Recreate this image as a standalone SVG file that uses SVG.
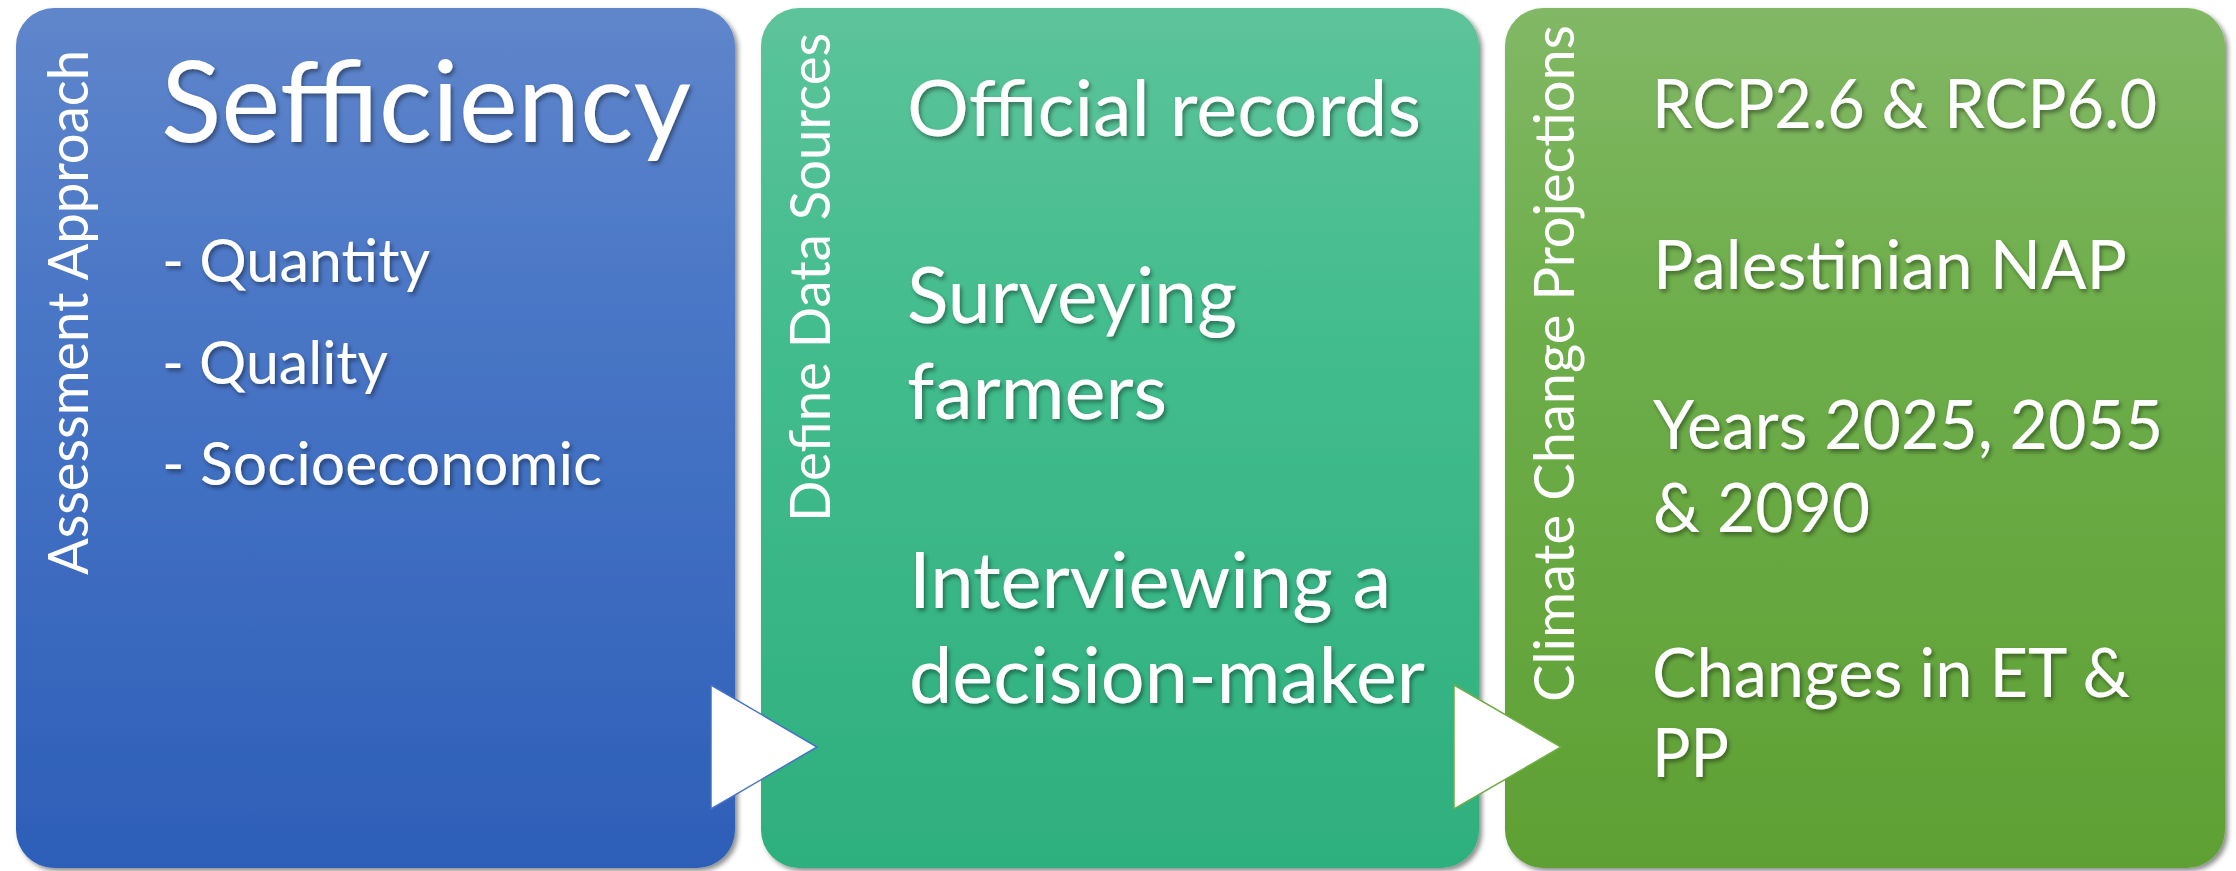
<svg xmlns="http://www.w3.org/2000/svg" width="2236" height="871" viewBox="0 0 2236 871">
  <defs>
    <linearGradient id="gBlue" x1="0" y1="0" x2="0" y2="1">
      <stop offset="0" stop-color="#5F86CB"/>
      <stop offset="0.35" stop-color="#4A76C6"/>
      <stop offset="1" stop-color="#2D5FB8"/>
    </linearGradient>
    <linearGradient id="gTeal" x1="0" y1="0" x2="0" y2="1">
      <stop offset="0" stop-color="#5DC39A"/>
      <stop offset="0.35" stop-color="#44BD8E"/>
      <stop offset="1" stop-color="#2EAF7E"/>
    </linearGradient>
    <linearGradient id="gGreen" x1="0" y1="0" x2="0" y2="1">
      <stop offset="0" stop-color="#82B865"/>
      <stop offset="0.35" stop-color="#6EAE4B"/>
      <stop offset="1" stop-color="#5FA034"/>
    </linearGradient>
    <filter id="panelShadow" x="-5%" y="-5%" width="110%" height="110%">
      <feDropShadow dx="3" dy="3" stdDeviation="2.5" flood-color="#000" flood-opacity="0.45"/>
    </filter>
    <filter id="textShadow" x="-5%" y="-20%" width="110%" height="140%">
      <feDropShadow dx="2" dy="3" stdDeviation="2" flood-color="#000" flood-opacity="0.4"/>
    </filter>
  </defs>
  <style>
    .panel { filter: url(#panelShadow); }
    .side { font-family: Lato, "Open Sans", "Liberation Sans", sans-serif; font-weight: 400; font-size: 56px; fill: #fff; }
    .body { font-family: Lato, "Liberation Sans", sans-serif; fill: #fff; filter: url(#textShadow); }
    .title { font-size: 112px; }
    .bullet { font-size: 60px; }
    .src { font-size: 77px; }
    .proj { font-size: 68px; }
    .arrow { fill: #fff; stroke-width: 1.5; }
  </style>
  <rect width="2236" height="871" fill="#fff"/>

  <!-- Stage 1: assessment approach -->
  <g id="node-assessment">
    <rect class="panel" x="16" y="8" width="719" height="860" rx="38" fill="url(#gBlue)"/>
    <text class="side" transform="translate(88,575) rotate(-90)" textLength="525" lengthAdjust="spacingAndGlyphs">Assessment Approach</text>
    <g class="body">
      <text class="title" x="161" y="142" textLength="530" lengthAdjust="spacingAndGlyphs">Sefficiency</text>
      <text class="bullet" x="162" y="282" textLength="268" lengthAdjust="spacingAndGlyphs">- Quantity</text>
      <text class="bullet" x="162" y="384" textLength="226" lengthAdjust="spacingAndGlyphs">- Quality</text>
      <text class="bullet" x="162" y="485" textLength="440" lengthAdjust="spacingAndGlyphs">- Socioeconomic</text>
    </g>
  </g>

  <!-- Stage 2: data sources -->
  <g id="node-sources">
    <rect class="panel" x="761" y="8" width="718" height="860" rx="38" fill="url(#gTeal)"/>
    <text class="side" transform="translate(830,522) rotate(-90)" textLength="489" lengthAdjust="spacingAndGlyphs">Define Data Sources</text>
    <g class="body">
      <text class="src" x="907" y="136" textLength="514" lengthAdjust="spacingAndGlyphs">Official records</text>
      <text class="src" x="907" y="323" textLength="330" lengthAdjust="spacingAndGlyphs">Surveying</text>
      <text class="src" x="907" y="419" textLength="260" lengthAdjust="spacingAndGlyphs">farmers</text>
      <text class="src" x="909" y="608" textLength="482" lengthAdjust="spacingAndGlyphs">Interviewing a</text>
      <text class="src" x="909" y="703" textLength="516" lengthAdjust="spacingAndGlyphs">decision-maker</text>
    </g>
  </g>

  <!-- Stage 3: climate change projections -->
  <g id="node-projections">
    <rect class="panel" x="1505" y="8" width="720" height="860" rx="38" fill="url(#gGreen)"/>
    <text class="side" transform="translate(1574,702) rotate(-90)" textLength="677" lengthAdjust="spacingAndGlyphs">Climate Change Projections</text>
    <g class="body">
      <text class="proj" x="1652" y="128" textLength="505" lengthAdjust="spacingAndGlyphs">RCP2.6 &amp; RCP6.0</text>
      <text class="proj" x="1653" y="289" textLength="474" lengthAdjust="spacingAndGlyphs">Palestinian NAP</text>
      <text class="proj" x="1653" y="449" textLength="510" lengthAdjust="spacingAndGlyphs">Years 2025, 2055</text>
      <text class="proj" x="1653" y="532" textLength="217" lengthAdjust="spacingAndGlyphs">&amp; 2090</text>
      <text class="proj" x="1652" y="697" textLength="478" lengthAdjust="spacingAndGlyphs">Changes in ET &amp;</text>
      <text class="proj" x="1652" y="777" textLength="77" lengthAdjust="spacingAndGlyphs">PP</text>
    </g>
  </g>

  <!-- Flow arrows between stages -->
  <g id="connectors">
    <polygon class="arrow" points="711,685 817,747 711,809" stroke="#4472C4"/>
    <polygon class="arrow" points="1454,685 1561,747 1454,809" stroke="#70AD47"/>
  </g>
</svg>
